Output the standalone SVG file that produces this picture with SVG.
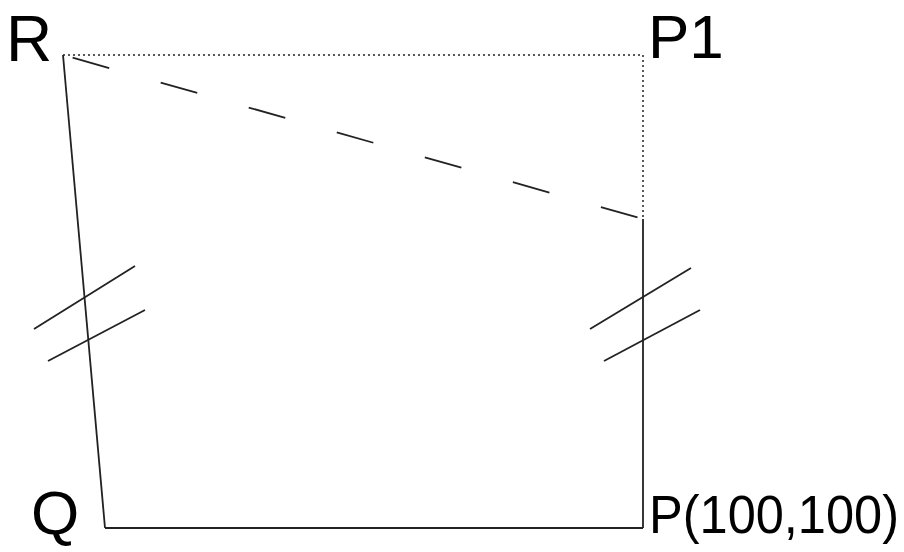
<svg xmlns="http://www.w3.org/2000/svg" width="904" height="552" viewBox="0 0 904 552">
<style>
.s{stroke:#222;stroke-width:1.8;fill:none}
.d{stroke:#222;stroke-width:1.5;stroke-dasharray:2 3;fill:none}
.t{font-family:"Liberation Sans",Arial,sans-serif;fill:#000}
</style>
<rect width="904" height="552" fill="#fff"/>
<g id="connectors">
<line class="d" x1="63" y1="55" x2="643" y2="55"/>
<line class="d" x1="643" y1="55" x2="643" y2="219"/>
<line class="s" x1="63" y1="55" x2="643" y2="219" stroke-dasharray="38 53.5" stroke-dashoffset="-10"/>
<line class="s" x1="63" y1="55" x2="105" y2="528"/>
<line class="s" x1="105" y1="528" x2="643" y2="528"/>
<line class="s" x1="643" y1="219" x2="643" y2="528"/>
<line class="s" x1="34" y1="329" x2="135" y2="266"/>
<line class="s" x1="48" y1="361" x2="145" y2="310"/>
<line class="s" x1="590" y1="329" x2="691" y2="268"/>
<line class="s" x1="604" y1="361" x2="700" y2="310"/>
</g>
<g id="R"><text class="t" x="6" y="61" font-size="64">R</text></g>
<g id="P1"><text class="t" x="648" y="58" font-size="62">P1</text></g>
<g id="Q"><text class="t" x="31" y="534" font-size="62">Q</text></g>
<g id="P"><text class="t" x="649" y="533" font-size="54" textLength="250" lengthAdjust="spacingAndGlyphs">P(100,100)</text></g>
</svg>
